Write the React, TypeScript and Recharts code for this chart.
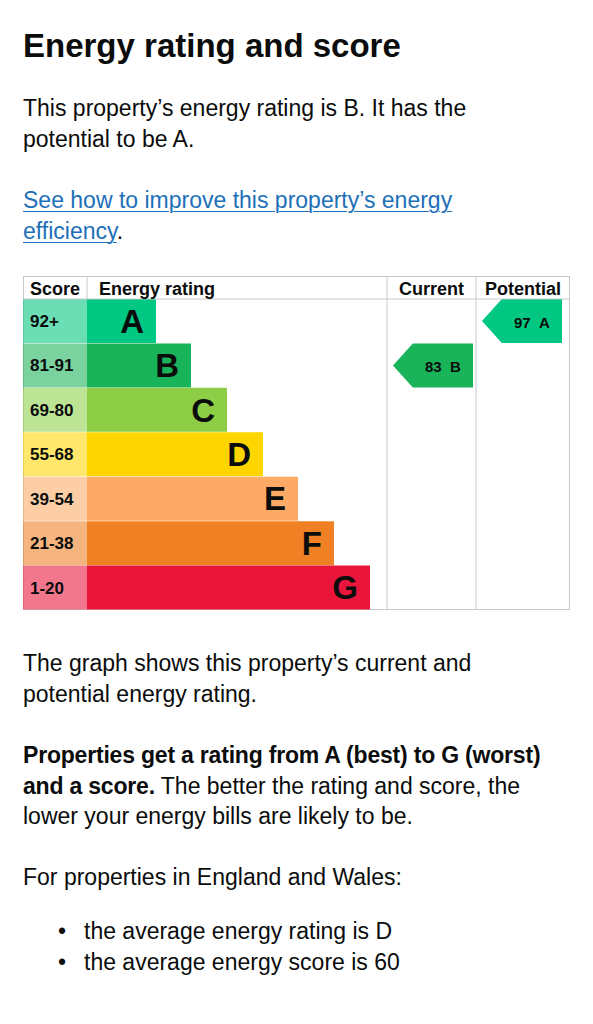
import React from 'react';
import { BarChart, Bar, XAxis, YAxis, Cell, LabelList, ReferenceLine } from 'recharts';

// bands, top (best) to bottom (worst)
const bands = ['A', 'B', 'C', 'D', 'E', 'F', 'G'];
const scoreRanges = ['92+', '81-91', '69-80', '55-68', '39-54', '21-38', '1-20'];
// length of each rating bar, in table units
const ratingLengths = [69, 104, 140, 176, 211, 247, 283];
const headerLabels = ['Score', 'Energy rating', 'Current', 'Potential'];

const currentScore = 83;
const currentBand = 'B';
const potentialScore = 97;
const potentialBand = 'A';

const bandColours = ['#00c781', '#19b459', '#8dce46', '#ffd500', '#fcaa65', '#ef8023', '#e9153b'];

const TEXT = '#0b0c0c';
const LINK = '#1d70b8';
const GRID = '#c6c8ca';
const FONT = '"Liberation Sans", Arial, sans-serif';

// table layout (1 unit = 1px)
const TABLE_W = 547;
const TABLE_H = 334;
const HEADER_H = 23;
const SCORE_COL = 64;
const COL_EDGES = [0, SCORE_COL, 364, 453];
const ARROW_INSET = 6;
const ARROW_LEN = 80;

const arrowRange = (col: number) => [COL_EDGES[col] + ARROW_INSET, COL_EDGES[col] + ARROW_INSET + ARROW_LEN];

const rows = bands.map((band, i) => ({
  band,
  range: scoreRanges[i],
  score: SCORE_COL,
  rating: ratingLengths[i],
  current: band === currentBand ? arrowRange(2) : null,
  currentLabel: `${currentScore}\u00a0\u00a0${currentBand}`,
  potential: band === potentialBand ? arrowRange(3) : null,
  potentialLabel: `${potentialScore}\u00a0\u00a0${potentialBand}`,
}));

// header row: column titles plus the dividers between them
const HeaderTick = (props: any) => {
  const { x, payload } = props;
  const idx = COL_EDGES.indexOf(payload.value);
  const end = idx < COL_EDGES.length - 1 ? COL_EDGES[idx + 1] : TABLE_W;
  const w = end - payload.value;
  const leftAligned = idx === 1;
  return (
    <g>
      {idx > 0 && <line x1={x} x2={x} y1={0} y2={HEADER_H} stroke={GRID} />}
      <text
        x={leftAligned ? x + 12 : x + w / 2}
        y={HEADER_H / 2 + 1}
        textAnchor={leftAligned ? 'start' : 'middle'}
        dominantBaseline="central"
        fontFamily={FONT}
        fontWeight={700}
        fontSize={18}
        fill={TEXT}
      >
        {headerLabels[idx]}
      </text>
    </g>
  );
};

const makeArrow = (key: 'current' | 'potential') => (props: any) => {
  const { x, y, width, height, payload, fill } = props;
  if (!payload || !payload[key]) return <g />;
  const tip = height * 0.45;
  const pts = `${x},${y + height / 2} ${x + tip},${y} ${x + width},${y} ${x + width},${y + height} ${x + tip},${y + height}`;
  return (
    <g>
      <polygon points={pts} fill={fill} />
      <text
        x={x + tip + (width - tip) / 2}
        y={y + height / 2 + 1}
        textAnchor="middle"
        dominantBaseline="central"
        fontFamily={FONT}
        fontWeight={700}
        fontSize={15}
        fill={TEXT}
      >
        {payload[key + 'Label']}
      </text>
    </g>
  );
};

const EnergyChart = () => (
  <div
    style={{
      position: 'absolute',
      left: 15,
      top: 268,
      width: TABLE_W,
      height: TABLE_H,
      boxShadow: `inset 0 0 0 1px ${GRID}`,
    }}
  >
    <BarChart
      layout="vertical"
      width={TABLE_W}
      height={TABLE_H}
      data={rows}
      margin={{ top: 0, right: 0, bottom: 0, left: 0 }}
      barCategoryGap={0}
      barGap={0}
    >
      <XAxis
        xAxisId="head"
        type="number"
        orientation="top"
        domain={[0, TABLE_W]}
        ticks={COL_EDGES}
        interval={0}
        height={HEADER_H}
        tickSize={0}
        tickMargin={0}
        tickLine={false}
        axisLine={{ stroke: GRID }}
        tick={(p: any) => <HeaderTick {...p} />}
      />
      <YAxis yAxisId="rows" type="category" dataKey="band" hide />
      <YAxis yAxisId="cur" type="category" dataKey="band" hide />
      <YAxis yAxisId="pot" type="category" dataKey="band" hide />

      <ReferenceLine xAxisId="head" yAxisId="rows" x={COL_EDGES[2]} stroke={GRID} />
      <ReferenceLine xAxisId="head" yAxisId="rows" x={COL_EDGES[3]} stroke={GRID} />

      <Bar dataKey="score" stackId="r" xAxisId="head" yAxisId="rows" isAnimationActive={false}>
        {rows.map((r, i) => (
          <Cell key={r.band} fill={bandColours[i]} fillOpacity={0.58} />
        ))}
        <LabelList
          dataKey="range"
          position="insideLeft"
          offset={7}
          fill={TEXT}
          fontSize={17}
          fontWeight={700}
          fontFamily={FONT}
        />
      </Bar>
      <Bar dataKey="rating" stackId="r" xAxisId="head" yAxisId="rows" isAnimationActive={false}>
        {rows.map((r, i) => (
          <Cell key={r.band} fill={bandColours[i]} />
        ))}
        <LabelList
          dataKey="band"
          position="insideRight"
          offset={12}
          fill={TEXT}
          fontSize={33}
          fontWeight={700}
          fontFamily={FONT}
        />
      </Bar>
      <Bar dataKey="current" xAxisId="head" yAxisId="cur" isAnimationActive={false} shape={makeArrow('current')}>
        {rows.map((r, i) => (
          <Cell key={r.band} fill={bandColours[i]} />
        ))}
      </Bar>
      <Bar dataKey="potential" xAxisId="head" yAxisId="pot" isAnimationActive={false} shape={makeArrow('potential')}>
        {rows.map((r, i) => (
          <Cell key={r.band} fill={bandColours[i]} />
        ))}
      </Bar>
    </BarChart>
  </div>
);

const line = (top: number): React.CSSProperties => ({
  position: 'absolute',
  left: 15,
  top: top - 8,
  whiteSpace: 'nowrap',
  fontSize: 23,
  lineHeight: '30.5px',
  color: TEXT,
});

export default function App() {
  return (
    <div style={{ position: 'relative', width: 577, height: 1008, fontFamily: FONT, color: TEXT }}>
      <div style={{ ...line(26), fontSize: 33, lineHeight: '40px', fontWeight: 700 }}>
        Energy rating and score
      </div>
      <div style={line(93)}>
        This property’s energy rating is B. It has the
        <br />
        potential to be A.
      </div>
      <div style={line(185)}>
        <a href="#" style={{ color: LINK, textDecorationThickness: 1, textUnderlineOffset: 3 }}>
          See how to improve this property’s energy
          <br />
          efficiency
        </a>
        .
      </div>

      <EnergyChart />

      <div style={line(648)}>
        The graph shows this property’s current and
        <br />
        potential energy rating.
      </div>
      <div style={line(740)}>
        <b style={{ letterSpacing: -0.2 }}>Properties get a rating from A (best) to G (worst)</b>
        <br />
        <b style={{ letterSpacing: -0.2 }}>and a score.</b> The better the rating and score, the
        <br />
        lower your energy bills are likely to be.
      </div>
      <div style={line(862)}>For properties in England and Wales:</div>
      <div style={line(916)}>
        {['the average energy rating is D', 'the average energy score is 60'].map((t) => (
          <div key={t} style={{ position: 'relative', paddingLeft: 61 }}>
            <span style={{ position: 'absolute', left: 35 }}>•</span>
            {t}
          </div>
        ))}
      </div>
    </div>
  );
}
